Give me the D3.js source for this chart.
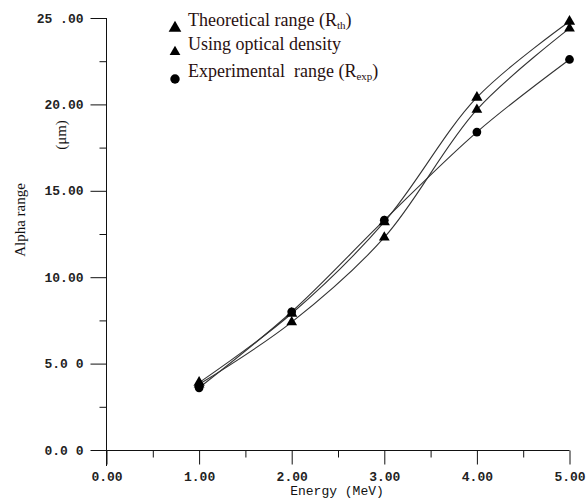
<!DOCTYPE html>
<html><head><meta charset="utf-8">
<script src="https://cdn.jsdelivr.net/npm/d3@7"></script>
<style>
body{margin:0;background:#fff;}
svg{display:block;}
</style></head>
<body>
<svg id="chart" width="587" height="501"></svg>
<script>
const energy = [1, 2, 3, 4, 5];
const theoretical = [3.9, 7.9, 13.2, 20.4, 24.8];
const opticalDensity = [3.8, 7.4, 12.3, 19.7, 24.4];
const experimental = [3.6, 8.0, 13.3, 18.4, 22.6];
const xTicks = [0, 1, 2, 3, 4, 5];
const xTickLabels = ["0.00", "1.00", "2.00", "3.00", "4.00", "5.00"];
const yTicks = [0, 5, 10, 15, 20, 25];
const yTickLabels = ["0.0 0", "5.0 0", "10.00", "15.00", "20.00", "25 .00"];
const legendLabels = ["Theoretical range (R", "Using optical density", "Experimental  range (R"];
const legendSubs = ["th", "", "exp"];

const svg = d3.select("#chart");
const x = d3.scaleLinear().domain([0, 5]).range([106.5, 569.5]);
const y = d3.scaleLinear().domain([0, 25]).range([450, 18]);
const tickFont = "'Liberation Mono', monospace";
const serif = "'Liberation Serif', 'DejaVu Serif', serif";

// Y axis
const yAxis = d3.axisLeft(y).tickValues(yTicks).tickSize(16).tickSizeOuter(0)
  .tickFormat((d, i) => yTickLabels[i]);
const gy = svg.append("g").attr("transform", "translate(106.5,0)").call(yAxis);
gy.select(".domain").remove();
gy.selectAll("text").attr("x", -23).attr("font-family", tickFont).attr("font-size", 13)
  .attr("font-weight", "bold").attr("fill", "#222");
gy.selectAll("line").attr("stroke", "#111");
const yMinor = d3.axisLeft(y).tickValues([2.5, 7.5, 12.5, 17.5, 22.5]).tickSize(7).tickFormat("");
const gym = svg.append("g").attr("transform", "translate(106.5,0)").call(yMinor);
gym.select(".domain").remove();
gym.selectAll("line").attr("stroke", "#111");
svg.append("line").attr("x1", 106.5).attr("x2", 106.5).attr("y1", y(25)).attr("y2", 466).attr("stroke", "#111");

// X axis
const xAxis = d3.axisBottom(x).tickValues(xTicks).tickSize(14).tickSizeOuter(0)
  .tickFormat((d, i) => xTickLabels[i]);
const gx = svg.append("g").attr("transform", "translate(0,450.5)").call(xAxis);
gx.select(".domain").remove();
gx.selectAll("text").attr("y", 21).attr("font-family", tickFont).attr("font-size", 13)
  .attr("font-weight", "bold").attr("fill", "#222");
gx.selectAll("line").attr("stroke", "#111");
const xMinor = d3.axisBottom(x).tickValues([0.5, 1.5, 2.5, 3.5, 4.5]).tickSize(7).tickFormat("");
const gxm = svg.append("g").attr("transform", "translate(0,450.5)").call(xMinor);
gxm.select(".domain").remove();
gxm.selectAll("line").attr("stroke", "#111");
svg.append("line").attr("x1", 91).attr("x2", x(5)).attr("y1", 450.5).attr("y2", 450.5).attr("stroke", "#111");

// axis titles
svg.append("text").attr("transform", "translate(25,220) rotate(-90)").attr("text-anchor", "middle")
  .attr("font-family", serif).attr("font-size", 15).attr("fill", "#111").text("Alpha range");
svg.append("text").attr("transform", "translate(66,135) rotate(-90)").attr("text-anchor", "middle")
  .attr("font-family", serif).attr("font-size", 15).attr("fill", "#111").text("(\u03bcm)");
svg.append("text").attr("x", 337).attr("y", 495).attr("text-anchor", "middle")
  .attr("font-family", tickFont).attr("font-size", 13).attr("fill", "#111").text("Energy (MeV)");

// lines
const series = [
  {vals: theoretical, shape: d3.symbolTriangle, size: 55},
  {vals: opticalDensity, shape: d3.symbolTriangle, size: 50},
  {vals: experimental, shape: d3.symbolCircle, size: 60}
];
const line = d3.line().x(d => x(d[0])).y(d => y(d[1])).curve(d3.curveCatmullRom.alpha(0.5));
series.forEach(s => {
  const pts = energy.map((e, i) => [e, s.vals[i]]);
  svg.append("path").attr("d", line(pts)).attr("fill", "none").attr("stroke", "#333").attr("stroke-width", 1.1);
});
series.forEach(s => {
  const pts = energy.map((e, i) => [e, s.vals[i]]);
  svg.selectAll(null).data(pts).enter().append("path")
    .attr("d", d3.symbol().type(s.shape).size(s.size))
    .attr("transform", d => `translate(${x(d[0])},${y(d[1])})`)
    .attr("fill", "#000");
});

// legend
const legY = [28, 52, 79];
const legSym = [d3.symbolTriangle, d3.symbolTriangle, d3.symbolCircle];
const legSize = [70, 50, 70];
legendLabels.forEach((lab, i) => {
  svg.append("path").attr("d", d3.symbol().type(legSym[i]).size(legSize[i]))
    .attr("transform", `translate(175,${legY[i]})`).attr("fill", "#000");
  const t = svg.append("text").attr("x", 188).attr("y", legY[i] - 2)
    .attr("font-family", serif).attr("font-size", 18).attr("fill", "#2a1010")
    .attr("xml:space", "preserve").style("white-space", "pre").text(lab);
  if (legendSubs[i]) {
    t.append("tspan").attr("font-size", 11).attr("dy", 3).text(legendSubs[i]);
    t.append("tspan").attr("dy", -3).text(")");
  }
});
</script>
</body></html>
